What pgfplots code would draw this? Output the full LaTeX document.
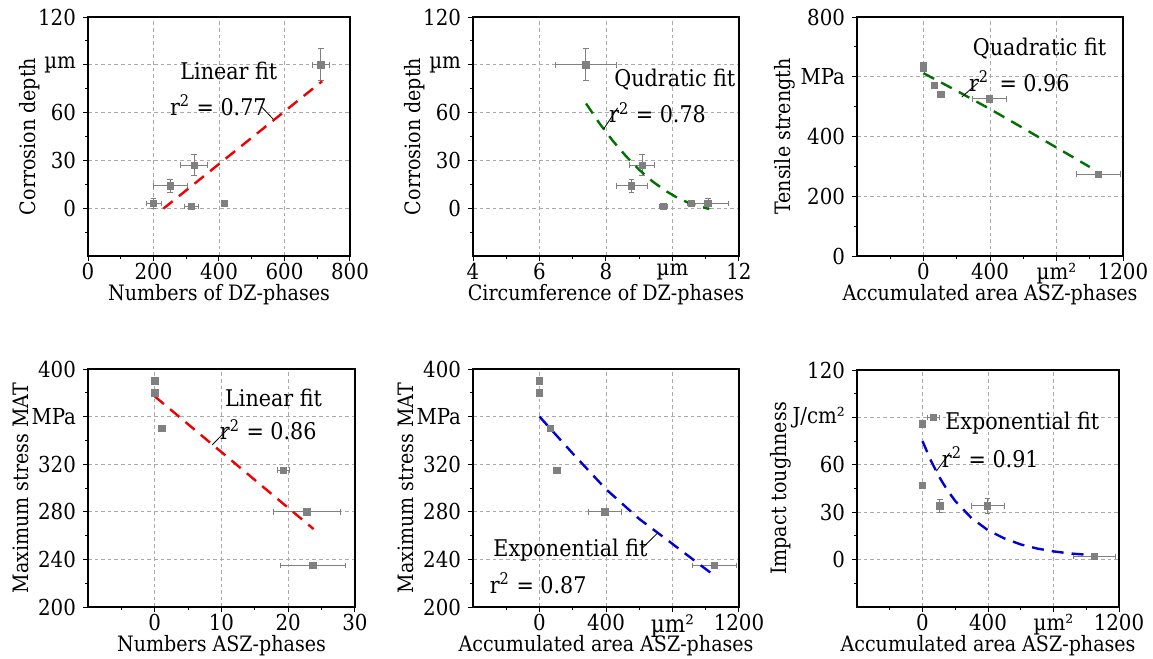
\documentclass[border=0pt]{standalone}
\usepackage{fontspec}
\setmainfont{DejaVu Serif Condensed}
\usepackage{pgfplots}
\usepackage{pgfplotstable}
\pgfplotsset{compat=1.18}

\definecolor{markgray}{RGB}{128,128,128}
\definecolor{fitred}{RGB}{240,0,0}
\definecolor{fitgreen}{RGB}{0,112,0}
\definecolor{fitblue}{RGB}{0,0,215}
\definecolor{gridgray}{RGB}{170,170,170}

% measured points: x, y, x error, y error
\pgfplotstableread{
x    y   ex  ey
200  3   23  3
251  14  51  4
324  27  42  6.5
315  1   22  1.5
416  3   10  2
711  90  25  10
}\tabA
\pgfplotstableread{
x     y   ex    ey
7.39  90  0.92  10
9.09  27  0.38  6.5
8.77  14  0.47  4
9.72  1   0.12  1.5
10.57 3   0.10  2
11.07 3   0.62  3
}\tabB
\pgfplotstableread{
x     y    ex   ey
0     636  0    0
0     628  0    0
66    571  16   4
104   540  10   4
396   526  100  0
1052  274  130  0
}\tabC
\pgfplotstableread{
x     y    ex   ey
0     390  0    0
0     380  0    0
1.1   350  0.3  0
19.3  315  0.9  0
22.8  280  5    0
23.7  235  4.9  0
}\tabD
\pgfplotstableread{
x     y    ex   ey
0     390  0    0
0     380  0    0
66    350  18   0
104   315  10   0
394   280  100  0
1052  235  130  0
}\tabE
\pgfplotstableread{
x     y    ex   ey
0     86   0    1.5
65    90   37   1
0     47   0    1.5
106   34   15   4
398   34   102  4.5
1050  2    130  1
}\tabF

\pgfplotsset{
  panel/.style={
    scale only axis, anchor=south west,
    axis line style={line width=0.6pt},
    tick align=outside, tick pos=left,
    major tick length=2.5pt, minor tick length=1.5pt,
    every tick/.style={black, line width=0.5pt},
    grid=major,
    major grid style={gridgray, line width=0.4pt, dash pattern=on 1.8pt off 1.5pt},
    tick label style={font=\fontsize{11}{12}\selectfont},
    xticklabel style={inner sep=1pt},
    label style={font=\fontsize{10.6}{12}\selectfont},
    xlabel style={at={(axis description cs:0.5,0)}, anchor=base, yshift=-22pt},
    clip=false,
  },
  ylab/.style={ylabel style={at={(axis description cs:#1,0.5)}, anchor=center}},
  pts/.style={
    only marks, mark=square*, mark size=1.6pt, color=markgray,
    mark options={fill=markgray, draw=markgray},
    error bars/.cd, x dir=both, x explicit, y dir=both, y explicit,
    error bar style={markgray, line width=0.4pt},
    error mark options={rotate=90, markgray, mark size=1.4pt, line width=0.4pt},
  },
  fit/.style={line width=1.2pt, dash pattern=on 6pt off 4pt},
}
\tikzset{note/.style={font=\fontsize{11.5}{13}\selectfont, inner sep=0pt}}

\begin{document}
\begin{tikzpicture}
\useasboundingbox (0,0) rectangle (576.5pt,-329.5pt);

% corrosion depth vs number of DZ phases
\begin{axis}[panel, ylab=-0.221, at={(44pt,-128pt)}, width=131pt, height=119.5pt,
  xmin=0, xmax=800, ymin=-30, ymax=120,
  xtick={0,200,400,600,800}, xticklabels={0,200,400,600,800},
  minor xtick={100,300,500,700},
  ytick={0,30,60,90,120}, yticklabels={0,30,60,µm,120},
  minor ytick={-15,15,45,75,105},
  xlabel={Numbers of DZ-phases}, ylabel={Corrosion depth}]
\addplot[pts] table[x=x, y=y, x error=ex, y error=ey] {\tabA};
\addplot[fit, fitred] coordinates {(230,-0.3) (715,79.7)};
\node[note] at (axis cs:430,86) {Linear fit};
\node[note] at (axis cs:398,64.5) {r\textsuperscript{2} = 0.77};
\draw[line width=0.4pt] (axis cs:528,64) -- (axis cs:565,56);
\end{axis}

% corrosion depth vs circumference of DZ phases
\begin{axis}[panel, ylab=-0.218, at={(236.5pt,-128pt)}, width=133pt, height=119.5pt,
  xmin=4, xmax=12, ymin=-30, ymax=120,
  xtick={4,6,8,10,12}, xticklabels={4,6,8,µm,12},
  minor xtick={5,7,9,11},
  ytick={0,30,60,90,120}, yticklabels={0,30,60,µm,120},
  minor ytick={-15,15,45,75,105},
  xlabel={Circumference of DZ-phases}, ylabel={Corrosion depth}]
\addplot[pts] table[x=x, y=y, x error=ex, y error=ey] {\tabB};
\addplot[fit, fitgreen] coordinates {(7.4,65.7) (7.8,53.4) (8.2,42.4) (8.6,32.7)
  (9.0,24.1) (9.4,16.8) (9.8,10.8) (10.2,5.9) (10.6,2.4) (11.1,-0.5)};
\node[note] at (axis cs:10.07,81) {Qudratic fit};
\node[note] at (axis cs:9.55,60) {r\textsuperscript{2} = 0.78};
\draw[line width=0.4pt] (axis cs:8.35,63) -- (axis cs:7.93,49.7);
\end{axis}

% tensile strength vs accumulated ASZ area
\begin{axis}[panel, ylab=-0.272, at={(428.5pt,-128pt)}, width=133pt, height=119.5pt,
  xmin=-400, xmax=1200, ymin=0, ymax=800,
  xtick={0,400,800,1200}, xticklabels={0,400,µm²,1200},
  minor xtick={-200,200,600,1000},
  ytick={0,200,400,600,800}, yticklabels={0,200,400,MPa,800},
  minor ytick={100,300,500,700},
  xlabel={Accumulated area ASZ-phases}, ylabel={Tensile strength}]
\addplot[pts] table[x=x, y=y, x error=ex, y error=ey] {\tabC};
\addplot[fit, fitgreen] coordinates {(0,612) (200,553) (400,492) (600,428)
  (800,363) (1000,298)};
\node[note] at (axis cs:698,693) {Quadratic fit};
\node[note] at (axis cs:576,584) {r\textsuperscript{2} \,= 0.96};
\draw[line width=0.4pt] (axis cs:326,579) -- (axis cs:230,532);
\end{axis}

% maximum stress vs number of ASZ phases
\begin{axis}[panel, ylab=-0.251, at={(44pt,-303.5pt)}, width=133.5pt, height=119pt,
  xmin=-10, xmax=30, ymin=200, ymax=400,
  xtick={0,10,20,30}, xticklabels={0,10,20,30},
  minor xtick={-5,5,15,25},
  ytick={200,240,280,320,360,400}, yticklabels={200,240,280,320,MPa,400},
  minor ytick={220,260,300,340,380},
  xlabel={Numbers ASZ-phases}, ylabel={Maximum stress MAT}]
\addplot[pts] table[x=x, y=y, x error=ex, y error=ey] {\tabD};
\addplot[fit, fitred] coordinates {(0,377) (23.8,265.5)};
\node[note] at (axis cs:17.8,375.6) {Linear fit};
\node[note] at (axis cs:17.0,348.9) {r\textsuperscript{2} = 0.86};
\draw[line width=0.4pt] (axis cs:10.9,349.4) -- (axis cs:8.6,336.2);
\end{axis}

% maximum stress vs accumulated ASZ area
\begin{axis}[panel, ylab=-0.252, at={(236.5pt,-303.5pt)}, width=133pt, height=119pt,
  xmin=-400, xmax=1200, ymin=200, ymax=400,
  xtick={0,400,800,1200},
  xticklabels={0,400,{\fontsize{12}{12}\selectfont\raisebox{0pt}[\height][0pt]{µm²}},1200},
  minor xtick={-200,200,600,1000},
  ytick={200,240,280,320,360,400}, yticklabels={200,240,280,320,MPa,400},
  minor ytick={220,260,300,340,380},
  xlabel={Accumulated area ASZ-phases}, ylabel={Maximum stress MAT}]
\addplot[pts] table[x=x, y=y, x error=ex, y error=ey] {\tabE};
\addplot[fit, fitblue] coordinates {(0,360) (200,329) (400,299) (600,274)
  (800,253) (1046,227)};
\node[note] at (axis cs:186,247.8) {Exponential fit};
\node[note] at (axis cs:-8,220.2) {r\textsuperscript{2} = 0.87};
\draw[line width=0.4pt] (axis cs:622,250) -- (axis cs:712,262.4);
\end{axis}

% impact toughness vs accumulated ASZ area
\begin{axis}[panel, ylab=-0.29, at={(428.5pt,-303.5pt)}, width=131pt, height=118.5pt,
  xmin=-400, xmax=1200, ymin=-30, ymax=120,
  xtick={0,400,800,1200}, xticklabels={0,400,µm²,1200},
  minor xtick={-200,200,600,1000},
  ytick={0,30,60,90,120}, yticklabels={0,30,60,J/cm²,120},
  minor ytick={-15,15,45,75,105},
  xlabel={Accumulated area ASZ-phases}, ylabel={Impact toughness}]
\addplot[pts] table[x=x, y=y, x error=ex, y error=ey] {\tabF};
\addplot[fit, fitblue] coordinates {(0,75) (50,62.9) (100,52.7) (150,44.2)
  (200,37.1) (300,26.2) (400,18.6) (500,13.4) (600,9.6) (700,7.0)
  (800,5.2) (900,3.9) (1050,2.7)};
\node[note] at (axis cs:609,86.2) {Exponential fit};
\node[note] at (axis cs:414,65) {r\textsuperscript{2} = 0.91};
\draw[line width=0.4pt] (axis cs:166,67.6) -- (axis cs:85,56);
\end{axis}
\end{tikzpicture}
\end{document}
